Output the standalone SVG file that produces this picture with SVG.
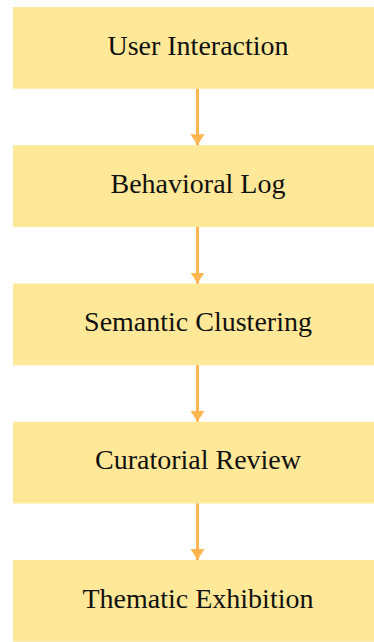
<svg xmlns="http://www.w3.org/2000/svg" width="374" height="642" viewBox="0 0 374 642">
<style>
.box{fill:#FFE897;}
.lbl{font-family:"Liberation Serif","Times New Roman",serif;font-size:28px;fill:#111;text-anchor:middle;}
.edge{stroke:#FFB550;stroke-width:3;fill:none;}
</style>
<defs>
<marker id="ah" markerWidth="11" markerHeight="14" refX="11" refY="7" orient="auto" markerUnits="userSpaceOnUse">
<path d="M0,0 L11,7 L0,14 Z" fill="#FFB550"/>
</marker>
</defs>
<rect width="374" height="642" fill="#fff"/>
<g id="n1"><rect class="box" x="13" y="7" width="370" height="81.7"/><text class="lbl" x="198" y="54.5">User Interaction</text></g>
<g id="n2"><rect class="box" x="13" y="145.25" width="370" height="81.7"/><text class="lbl" x="198" y="192.7">Behavioral Log</text></g>
<g id="n3"><rect class="box" x="13" y="283.5" width="370" height="81.7"/><text class="lbl" x="198" y="331">Semantic Clustering</text></g>
<g id="n4"><rect class="box" x="13" y="421.75" width="370" height="81.7"/><text class="lbl" x="198" y="469.2">Curatorial Review</text></g>
<g id="n5"><rect class="box" x="13" y="560" width="370" height="81.7"/><text class="lbl" x="198" y="607.5">Thematic Exhibition</text></g>
<g id="edges">
<line class="edge" x1="197.5" y1="88.7" x2="197.5" y2="145.25" marker-end="url(#ah)"/>
<line class="edge" x1="197.5" y1="226.95" x2="197.5" y2="283.5" marker-end="url(#ah)"/>
<line class="edge" x1="197.5" y1="365.2" x2="197.5" y2="421.75" marker-end="url(#ah)"/>
<line class="edge" x1="197.5" y1="503.45" x2="197.5" y2="560" marker-end="url(#ah)"/>
</g>
</svg>
